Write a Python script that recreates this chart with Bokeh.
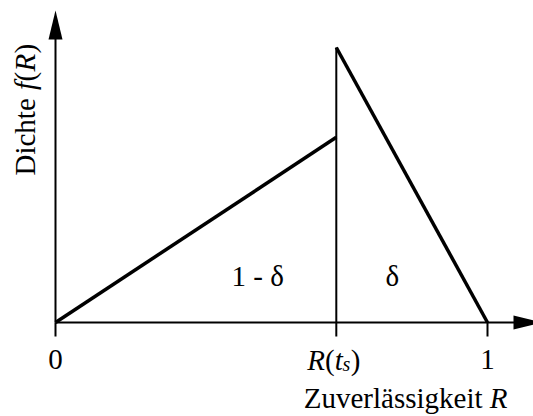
from bokeh.plotting import figure
from bokeh.models import Range1d
from bokeh.core.properties import value
from bokeh.embed import file_html
from bokeh.resources import INLINE
import math

# Reliability R: split point R(t_s) and the end of the axis
R_ts = 0.65
tick_pos = [0.0, R_ts, 1.0]
tick_text = ["0", "", "1"]

# piecewise-linear density f(R)
x_lower = [0.0, R_ts]
f_lower = [0.0, 2.02]
x_upper = [R_ts, 1.0]
f_upper = [3.0, 0.0]

area_text = ["1 - δ", "δ"]

W, H = 533, 416
ox, oy = 55, 322          # origin in canvas pixels
sx = 432.0                # pixels per unit of R
sy = 275.0 / 3.0          # pixels per unit of f(R)

FONT = value("Liberation Serif")
FS = 29
fs = f"{FS}px"
LIFT = 10                 # baseline correction for the text boxes, in pixels


def dx(px):
    return px / sx


def dy(px):
    return px / sy


p = figure(width=W, height=H,
           x_range=Range1d(-ox / sx, (W - ox) / sx),
           y_range=Range1d(-(H - oy) / sy, oy / sy),
           output_backend="svg", toolbar_location=None, min_border=0,
           x_axis_location=None, y_axis_location=None)
p.grid.visible = False
p.outline_line_color = None
p.background_fill_color = "white"
p.border_fill_color = "white"

black = "black"

# coordinate axes with arrow heads
x_tip = dx(W + 9 - ox)
y_tip = dy(oy - 10)
head_len, head_half = 29, 7
p.segment(x0=[0, 0], y0=[0, 0], x1=[x_tip - dx(head_len) + dx(1), 0],
          y1=[0, y_tip - dy(head_len) + dy(1)], line_color=black, line_width=2)
p.patch([x_tip, x_tip - dx(head_len), x_tip - dx(head_len)],
        [0, dy(head_half), -dy(head_half)], color=black, line_width=0)
p.patch([0, dx(head_half), -dx(head_half)],
        [y_tip, y_tip - dy(head_len), y_tip - dy(head_len)], color=black, line_width=0)

# tick marks below the R axis
p.segment(x0=tick_pos, y0=[0] * 3, x1=tick_pos, y1=[-dy(14)] * 3,
          line_color=black, line_width=2)

# split line at R(t_s)
p.segment(x0=[R_ts], y0=[0], x1=[R_ts], y1=[f_upper[0]],
          line_color=black, line_width=2)

# density branches
p.line(x_lower, f_lower, line_color=black, line_width=3.5, line_cap="butt")
p.line(x_upper, f_upper, line_color=black, line_width=3.5, line_join="miter")

# tick labels
base_r = -dy(47 - LIFT)
p.text(x=[tick_pos[0], tick_pos[2]], y=[base_r] * 2, text=[tick_text[0], tick_text[2]],
       text_font=FONT, text_font_size=fs, text_align="center", text_baseline="alphabetic",
       text_color=black)

# R(t_s) label built from upright and italic pieces
x0 = R_ts - dx(29)
p.text(x=[x0, x0 + dx(27.4)], y=[base_r, base_r], text=["R", "t"],
       text_font=FONT, text_font_size=fs, text_font_style="italic",
       text_baseline="alphabetic", text_color=black)
p.text(x=[x0 + dx(17.7), x0 + dx(43.5)], y=[base_r, base_r], text=["(", ")"],
       text_font=FONT, text_font_size=fs, text_baseline="alphabetic", text_color=black)
p.text(x=[x0 + dx(35.3)], y=[base_r - dy(4)], text=["s"],
       text_font=FONT, text_font_size="20px", text_font_style="italic",
       text_baseline="alphabetic", text_color=black)

# axis title for R
base_t = -dy(85 - LIFT)
end_t = 1.0 + dx(20)
p.text(x=[end_t], y=[base_t], text=["R"], text_font=FONT, text_font_size=fs,
       text_font_style="italic", text_align="right", text_baseline="alphabetic",
       text_color=black)
p.text(x=[end_t - dx(25)], y=[base_t], text=["Zuverlässigkeit"], text_font=FONT,
       text_font_size=fs, text_align="right", text_baseline="alphabetic", text_color=black)

# axis title for f(R), rotated
ang = math.pi / 2
xb = -dx(21 + LIFT)
y0 = dy(oy - 175)
p.text(x=[xb], y=[y0], text=["Dichte"], angle=ang, text_font=FONT, text_font_size=fs,
       text_baseline="alphabetic", text_color=black)
p.text(x=[xb, xb], y=[y0 + dy(85.5), y0 + dy(104)], text=["f", "R"], angle=ang,
       text_font=FONT, text_font_size=fs, text_font_style="italic",
       text_baseline="alphabetic", text_color=black)
p.text(x=[xb, xb], y=[y0 + dy(94), y0 + dy(122)], text=["(", ")"], angle=ang,
       text_font=FONT, text_font_size=fs, text_baseline="alphabetic", text_color=black)

# area labels
p.text(x=[0.72 * R_ts, R_ts + 0.37 * (1 - R_ts)], y=[dy(37 + LIFT)] * 2, text=area_text,
       text_font=FONT, text_font_size=fs, text_align="center", text_baseline="alphabetic",
       text_color=black)

open("out.html", "w").write(file_html(p, INLINE))
